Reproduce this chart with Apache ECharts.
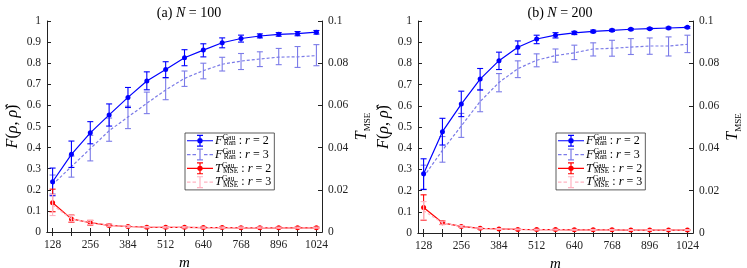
<!DOCTYPE html>
<html><head><meta charset="utf-8">
<script src="https://cdn.jsdelivr.net/npm/echarts@6/dist/echarts.min.js"></script>
<style>html,body{margin:0;padding:0;background:#fff}#c{width:747px;height:268px}</style>
</head><body><div id="c"></div>
<script>
// ---- data ----
const mValues = [128,192,256,320,384,448,512,576,640,704,768,832,896,960,1024];
const xTickValues = [128,192,256,320,384,448,512,576,640,704,768,832,896,960,1024];
const xLabelValues = [128,256,384,512,640,768,896,1024];

// panel (a) N = 100
const fA2 = [0.238,0.368,0.470,0.555,0.638,0.716,0.770,0.826,0.862,0.897,0.917,0.929,0.937,0.940,0.947];
const fA2lo = [0.172,0.306,0.418,0.502,0.590,0.674,0.732,0.788,0.830,0.873,0.900,0.920,0.928,0.930,0.938];
const fA2hi = [0.303,0.431,0.523,0.607,0.685,0.759,0.807,0.864,0.892,0.920,0.933,0.939,0.945,0.950,0.955];
const fA3 = [0.225,0.310,0.395,0.480,0.545,0.610,0.673,0.728,0.765,0.795,0.810,0.820,0.829,0.830,0.836];
const fA3lo = [0.180,0.260,0.337,0.430,0.490,0.561,0.627,0.690,0.726,0.763,0.770,0.784,0.793,0.780,0.788];
const fA3hi = [0.270,0.360,0.458,0.540,0.596,0.663,0.730,0.763,0.800,0.828,0.846,0.854,0.870,0.879,0.888];
const tA2 = [0.0139,0.0062,0.0044,0.0031,0.0026,0.0023,0.0022,0.0022,0.0021,0.0021,0.0020,0.0020,0.0020,0.0020,0.0020];
const tA2lo = [0.0096,0.0046,0.0033,0.0026,0.0022,0.0020,0.0019,0.0019,0.0018,0.0018,0.0018,0.0018,0.0018,0.0018,0.0018];
const tA2hi = [0.0203,0.0080,0.0055,0.0037,0.0030,0.0026,0.0025,0.0025,0.0024,0.0024,0.0023,0.0023,0.0023,0.0023,0.0023];
const tA3 = [0.0128,0.0062,0.0045,0.0032,0.0026,0.0023,0.0022,0.0022,0.0021,0.0021,0.0021,0.0021,0.0020,0.0020,0.0020];
const tA3lo = [0.0078,0.0048,0.0035,0.0027,0.0022,0.0020,0.0019,0.0019,0.0018,0.0018,0.0018,0.0018,0.0018,0.0018,0.0018];
const tA3hi = [0.0178,0.0078,0.0055,0.0038,0.0030,0.0026,0.0025,0.0025,0.0024,0.0024,0.0024,0.0024,0.0023,0.0023,0.0023];

// panel (b) N = 200
const fB2 = [0.280,0.478,0.608,0.726,0.813,0.876,0.915,0.933,0.944,0.951,0.956,0.961,0.964,0.967,0.970];
const fB2lo = [0.205,0.415,0.549,0.674,0.771,0.843,0.893,0.920,0.936,0.945,0.951,0.957,0.960,0.963,0.966];
const fB2hi = [0.350,0.541,0.669,0.776,0.853,0.906,0.933,0.945,0.951,0.957,0.961,0.965,0.968,0.971,0.974];
const fB3 = [0.265,0.390,0.505,0.620,0.710,0.775,0.815,0.837,0.850,0.868,0.871,0.877,0.882,0.882,0.890];
const fB3lo = [0.207,0.334,0.451,0.572,0.666,0.733,0.784,0.806,0.818,0.835,0.834,0.842,0.843,0.835,0.851];
const fB3hi = [0.320,0.455,0.564,0.677,0.752,0.812,0.845,0.868,0.886,0.897,0.909,0.917,0.920,0.925,0.933];
const tB2 = [0.0120,0.0048,0.0031,0.0022,0.0019,0.0017,0.0016,0.0016,0.0015,0.0015,0.0015,0.0014,0.0014,0.0014,0.0014];
const tB2lo = [0.0060,0.0040,0.0027,0.0019,0.0017,0.0015,0.0014,0.0014,0.0013,0.0013,0.0013,0.0012,0.0012,0.0012,0.0012];
const tB2hi = [0.0180,0.0057,0.0035,0.0025,0.0021,0.0019,0.0018,0.0018,0.0017,0.0017,0.0017,0.0016,0.0016,0.0016,0.0016];
const tB3 = [0.0105,0.0048,0.0031,0.0022,0.0019,0.0017,0.0016,0.0016,0.0015,0.0015,0.0015,0.0014,0.0014,0.0014,0.0014];
const tB3lo = [0.0062,0.0041,0.0027,0.0019,0.0017,0.0015,0.0014,0.0014,0.0013,0.0013,0.0013,0.0012,0.0012,0.0012,0.0012];
const tB3hi = [0.0148,0.0056,0.0035,0.0025,0.0021,0.0019,0.0018,0.0018,0.0017,0.0017,0.0017,0.0016,0.0016,0.0016,0.0016];

// ---- styling ----
const FONT = 'Liberation Serif';
const C_B2 = '#0000ff', C_B3 = '#7b7be8', C_R2 = '#ff0000', C_R3 = '#ffb3c1';
const AX = '#222';

const ICON_SOLID_DOT = 'path://M0,5.4H26V6.6H0Z M10,0H16V1.2H10Z M10,10.8H16V12H10Z M12.4,0H13.6V12H12.4Z M13,3.3A2.7,2.7 0 1 1 12.99,3.3Z';
const ICON_DASH = 'path://M0,5.4H3.5V6.6H0Z M5.5,5.4H9V6.6H5.5Z M17,5.4H20.5V6.6H17Z M22.5,5.4H26V6.6H22.5Z M10,0H16V1.2H10Z M10,10.8H16V12H10Z M12.4,0H13.6V12H12.4Z';

function zip(x, y) { return x.map((v, i) => [v, y[i]]); }
function zip3(x, a, b) { return x.map((v, i) => [v, a[i], b[i]]); }

function errSeries(xi, yi, lo, hi, color, z) {
  return {
    type: 'custom', xAxisIndex: xi, yAxisIndex: yi, z: z, silent: true,
    data: zip3(mValues, lo, hi), encode: { x: 0, y: [1, 2] },
    renderItem: function (params, api) {
      const x = api.value(0);
      const p1 = api.coord([x, api.value(2)]);
      const p2 = api.coord([x, api.value(1)]);
      const w = 3;
      const st = { stroke: color, lineWidth: 1.1 };
      return { type: 'group', children: [
        { type: 'line', shape: { x1: p1[0], y1: p1[1], x2: p2[0], y2: p2[1] }, style: st },
        { type: 'line', shape: { x1: p1[0] - w, y1: p1[1], x2: p1[0] + w, y2: p1[1] }, style: st },
        { type: 'line', shape: { x1: p2[0] - w, y1: p2[1], x2: p2[0] + w, y2: p2[1] }, style: st }
      ]};
    }
  };
}
function lineSeries(name, xi, yi, vals, color, dashed, dot, z) {
  return {
    type: 'line', name: name, xAxisIndex: xi, yAxisIndex: yi, z: z,
    data: zip(mValues, vals),
    symbol: dot ? 'circle' : 'none', symbolSize: 5, showSymbol: dot,
    itemStyle: { color: color },
    lineStyle: { color: color, width: 1.2, type: dashed ? [3, 2] : 'solid' }
  };
}

const grids = [
  { left: 47, right: 425, top: 21, bottom: 36, outerBoundsMode: 'none', containLabel: false },
  { left: 418, right: 54, top: 21, bottom: 35, outerBoundsMode: 'none', containLabel: false }
];
const panels = [
  { f2: fA2, f2lo: fA2lo, f2hi: fA2hi, f3: fA3, f3lo: fA3lo, f3hi: fA3hi,
    t2: tA2, t2lo: tA2lo, t2hi: tA2hi, t3: tA3, t3lo: tA3lo, t3hi: tA3hi },
  { f2: fB2, f2lo: fB2lo, f2hi: fB2hi, f3: fB3, f3lo: fB3lo, f3hi: fB3hi,
    t2: tB2, t2lo: tB2lo, t2hi: tB2hi, t3: tB3, t3lo: tB3lo, t3hi: tB3hi }
];

const xAxes = [], yAxes = [], series = [], legends = [], titles = [];
const titleTexts = ['(a) {i|N} = 100', '(b) {i|N} = 200'];
const LH = 13.5;
const legendRich = {
  i: { fontFamily: FONT, fontStyle: 'italic', fontSize: 12.5, color: '#000', lineHeight: LH },
  t: { fontFamily: FONT, fontSize: 12, color: '#000', lineHeight: LH },
  sup: { fontFamily: FONT, fontSize: 7.5, color: '#000', verticalAlign: 'top', width: 1, lineHeight: LH },
  sub: { fontFamily: FONT, fontSize: 7.5, color: '#000', verticalAlign: 'bottom', lineHeight: LH }
};
function legendFmt(n) {
  const L = n[0] === 'F' ? '{i|F}{sup|Gau}{sub|Ran}' : '{i|T}{sup|Gau}{sub|MSE}';
  return L + '{t| : }{i|r}{t| = ' + n[1] + '}';
}
const numFmt = v => String(+v.toFixed(4));

grids.forEach((g, k) => {
  const xb = xAxes.length;
  xAxes.push({
    gridIndex: k, type: 'value', min: 109, max: 1043, position: 'bottom',
    axisLine: { lineStyle: { color: AX, width: 1 } },
    axisTick: { inside: true, length: 4, customValues: xTickValues, lineStyle: { color: AX } },
    axisLabel: { customValues: xLabelValues, margin: 7, color: AX, fontFamily: FONT, fontSize: 11.5, formatter: numFmt },
    splitLine: { show: false },
    name: 'm', nameLocation: 'middle', nameGap: 20,
    nameTextStyle: { fontFamily: FONT, fontStyle: 'italic', fontSize: 15, color: '#000' }
  });
  xAxes.push({
    gridIndex: k, type: 'value', min: 109, max: 1043, position: 'top',
    axisLine: { lineStyle: { color: AX, width: 1 } },
    axisTick: { inside: true, length: 4, customValues: xTickValues, lineStyle: { color: AX } },
    axisLabel: { show: false }, splitLine: { show: false }
  });
  const yl = yAxes.length;
  yAxes.push({
    gridIndex: k, type: 'value', min: 0, max: 1, interval: 0.1, position: 'left',
    axisLine: { show: true, lineStyle: { color: AX, width: 1 } },
    axisTick: { show: true, inside: true, length: 4, lineStyle: { color: AX } },
    axisLabel: { margin: 6, color: AX, fontFamily: FONT, fontSize: 11.5, formatter: numFmt },
    splitLine: { show: false },
    name: '{i|F}({i|ρ}, {i|ρ\u0302})', nameLocation: 'middle', nameGap: 26, nameRotate: 90,
    nameTextStyle: { fontFamily: FONT, fontSize: 16, color: '#000',
      rich: { i: { fontFamily: FONT, fontStyle: 'italic', fontSize: 16, color: '#000' } } }
  });
  yAxes.push({
    gridIndex: k, type: 'value', min: 0, max: 0.1, interval: 0.02, position: 'right',
    axisLine: { show: true, lineStyle: { color: AX, width: 1 } },
    axisTick: { show: true, inside: true, length: 4, lineStyle: { color: AX } },
    axisLabel: { margin: 6, color: AX, fontFamily: FONT, fontSize: 11.5, formatter: numFmt },
    splitLine: { show: false },
    name: '{i|T}{s|MSE}', nameLocation: 'middle', nameGap: 32, nameRotate: 90,
    nameTextStyle: { fontFamily: FONT, fontSize: 15, color: '#000',
      rich: { i: { fontFamily: FONT, fontStyle: 'italic', fontSize: 16, color: '#000', verticalAlign: 'top', lineHeight: 18 },
              s: { fontFamily: FONT, fontSize: 9, color: '#000', verticalAlign: 'bottom', lineHeight: 18 } } }
  });
  const p = panels[k];
  series.push(errSeries(xb, yl, p.f3lo, p.f3hi, C_B3, 2));
  series.push(lineSeries('F3', xb, yl, p.f3, C_B3, true, false, 2));
  series.push(errSeries(xb, yl, p.f2lo, p.f2hi, C_B2, 3));
  series.push(lineSeries('F2', xb, yl, p.f2, C_B2, false, true, 3));
  series.push(errSeries(xb, yl + 1, p.t2lo, p.t2hi, C_R2, 4));
  series.push(lineSeries('T2', xb, yl + 1, p.t2, C_R2, false, true, 4));
  series.push(errSeries(xb, yl + 1, p.t3lo, p.t3hi, C_R3, 5));
  series.push(lineSeries('T3', xb, yl + 1, p.t3, C_R3, true, false, 5));

  const leftPx = k === 0 ? 185 : 556;
  legends.push({
    left: leftPx, top: 133, orient: 'vertical',
    itemWidth: 26, itemHeight: 12, itemGap: 0.3,
    padding: [1, 3, 1, 2], backgroundColor: '#fff', borderColor: '#333', borderWidth: 0.8,
    selectedMode: false,
    data: [
      { name: 'F2', icon: ICON_SOLID_DOT },
      { name: 'F3', icon: ICON_DASH },
      { name: 'T2', icon: ICON_SOLID_DOT },
      { name: 'T3', icon: ICON_DASH }
    ],
    formatter: legendFmt,
    textStyle: { fontFamily: FONT, fontSize: 12, color: '#000', padding: [0, 0, 0, -3], rich: legendRich }
  });
  titles.push({
    text: titleTexts[k], left: k === 0 ? 184 : 555, top: 1, textAlign: 'center',
    textStyle: { fontFamily: FONT, fontSize: 14, fontWeight: 'normal', color: '#000',
      rich: { i: { fontFamily: FONT, fontStyle: 'italic', fontSize: 14, color: '#000' } } }
  });
});

const chart = echarts.init(document.getElementById('c'), null, { renderer: 'canvas' });
chart.setOption({
  animation: false, backgroundColor: '#fff',
  title: titles, grid: grids, xAxis: xAxes, yAxis: yAxes, legend: legends, series: series
});
</script></body></html>
